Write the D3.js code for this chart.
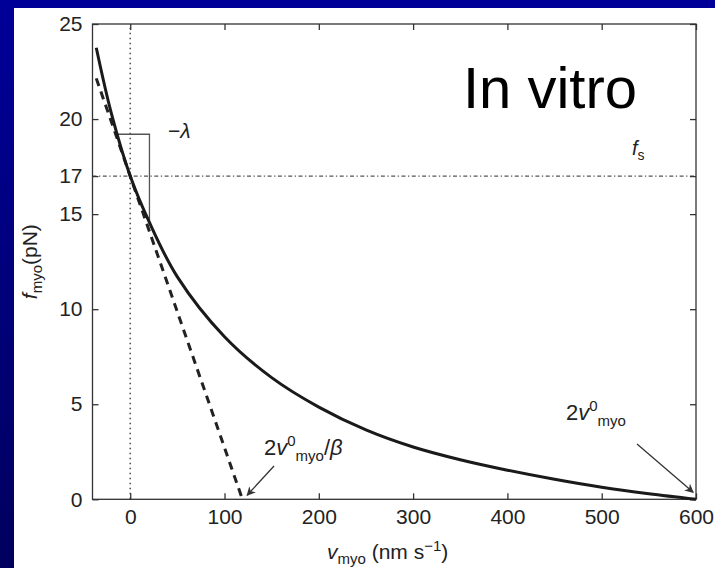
<!DOCTYPE html>
<html>
<head>
<meta charset="utf-8">
<script src="https://cdn.jsdelivr.net/npm/d3@7"></script>
<style>
html,body{margin:0;padding:0;background:#fff;}
svg{display:block;}
text{font-family:"Liberation Sans",Arial,Helvetica,sans-serif;}
</style>
</head>
<body>
<svg id="chart" width="715" height="568"></svg>
<script>
// ---- data ----
const velocity = [-36, -20, 0, 20, 50, 100, 150, 200, 250, 300, 350, 400, 450, 500, 550, 600];
const force    = [23.75, 20.3, 17.0, 14.6, 11.7, 8.55, 6.4, 4.85, 3.65, 2.75, 2.08, 1.53, 1.05, 0.63, 0.29, 0.0];
const tangentV = [-36, 119];
const tangentF = [22.14, 0];
const slopeMarkV = [-14, 20.4, 20.4];
const slopeMarkF = [19.2, 19.2, 14.5];
const stallForce = 17;
const xTicks = [0, 100, 200, 300, 400, 500, 600];
const yTicks = [0, 5, 10, 15, 17, 20, 25];

const svg = d3.select("#chart");

// slide background
const defs = svg.append("defs");
const grad = defs.append("linearGradient").attr("id","bg").attr("x1",0).attr("y1",0).attr("x2",0).attr("y2",1);
grad.append("stop").attr("offset","0%").attr("stop-color","#000099");
grad.append("stop").attr("offset","100%").attr("stop-color","#00005e");
svg.append("rect").attr("x",0).attr("y",0).attr("width",715).attr("height",568).attr("fill","url(#bg)");
svg.append("rect").attr("x",14).attr("y",8).attr("width",701).attr("height",560).attr("fill","#fff");

const mk = defs.append("marker").attr("id","arr").attr("viewBox","0 0 10 10")
  .attr("refX",9).attr("refY",5).attr("markerWidth",9).attr("markerHeight",9)
  .attr("markerUnits","userSpaceOnUse").attr("orient","auto");
mk.append("path").attr("d","M0,0 L10,5 L0,10 L3,5 Z").attr("fill","#333");

const x = d3.scaleLinear().domain([-40, 600]).range([92.5, 696]);
const y = d3.scaleLinear().domain([0, 25]).range([499.3, 24]);

const [x0, x1] = x.range();
const [yb, yt] = y.range();

// reference lines
svg.append("line").attr("x1", x(0)).attr("x2", x(0)).attr("y1", yb).attr("y2", yt)
  .attr("stroke","#555").attr("stroke-width",1.6).attr("stroke-dasharray","1.6,3.4");
svg.append("line").attr("x1", x0).attr("x2", x1).attr("y1", y(stallForce)).attr("y2", y(stallForce))
  .attr("stroke","#555").attr("stroke-width",1.3).attr("stroke-dasharray","4,2.5,1.3,2.5");

// axes box with inward ticks
const g = svg.append("g");
const axB = d3.axisBottom(x).tickValues(xTicks).tickSize(-6).tickPadding(10).tickFormat(d3.format("d"));
const axT = d3.axisTop(x).tickValues(xTicks).tickSize(-6).tickFormat("");
const axL = d3.axisLeft(y).tickValues(yTicks).tickSize(-6).tickPadding(10).tickFormat(d3.format("d"));
const axR = d3.axisRight(y).tickValues(yTicks).tickSize(-6).tickFormat("");
function style(sel){
  sel.selectAll(".domain").remove();
  sel.selectAll("line").attr("stroke","#333").attr("stroke-width",1.3);
  sel.selectAll("text").attr("font-size",21).attr("fill","#222")
     .attr("font-family","'Liberation Sans',Arial,Helvetica,sans-serif");
}
style(g.append("g").attr("transform",`translate(0,${yb})`).call(axB));
style(g.append("g").attr("transform",`translate(0,${yt})`).call(axT));
style(g.append("g").attr("transform",`translate(${x0},0)`).call(axL));
style(g.append("g").attr("transform",`translate(${x1},0)`).call(axR));
svg.append("rect").attr("x",x0).attr("y",yt).attr("width",x1-x0).attr("height",yb-yt)
  .attr("fill","none").attr("stroke","#333").attr("stroke-width",1.3);

// slope marker
svg.append("path")
  .attr("d", d3.line()(slopeMarkV.map((v,i)=>[x(v), y(slopeMarkF[i])])))
  .attr("fill","none").attr("stroke","#555").attr("stroke-width",1.3);

// tangent dashed
svg.append("path")
  .attr("d", d3.line()(tangentV.map((v,i)=>[x(v), y(tangentF[i])])))
  .attr("fill","none").attr("stroke","#222").attr("stroke-width",3).attr("stroke-dasharray","8,6");

// force-velocity curve
svg.append("path")
  .attr("d", d3.line().curve(d3.curveCatmullRom.alpha(0.5))(velocity.map((v,i)=>[x(v), y(force[i])])))
  .attr("fill","none").attr("stroke","#1a1a1a").attr("stroke-width",3);

// annotations
svg.append("text").attr("x",463).attr("y",108).attr("font-size",58).attr("fill","#000").text("In vitro");

const lam = svg.append("text").attr("x",168).attr("y",138).attr("font-size",21).attr("fill","#222");
lam.append("tspan").text("\u2212");
lam.append("tspan").attr("font-style","italic").text("\u03BB");

const fs = svg.append("text").attr("x",632).attr("y",155).attr("font-size",20).attr("fill","#222");
fs.append("tspan").attr("font-style","italic").text("f");
fs.append("tspan").attr("font-size",14).attr("dy",5).text("s");

function vLabel(xp, yp, withBeta){
  const t = svg.append("text").attr("x",xp).attr("y",yp).attr("font-size",22).attr("fill","#222");
  t.append("tspan").text("2");
  t.append("tspan").attr("font-style","italic").text("v");
  t.append("tspan").attr("font-size",15).attr("dy",-9).text("0");
  t.append("tspan").attr("font-size",15).attr("dy",15).text("myo");
  if (withBeta){
    t.append("tspan").attr("dy",-6).text("/");
    t.append("tspan").attr("font-style","italic").text("\u03B2");
  }
}
vLabel(264, 455, true);
vLabel(566, 420, false);

svg.append("line").attr("x1",274).attr("y1",466).attr("x2",x(124)).attr("y2",yb-4)
  .attr("stroke","#333").attr("stroke-width",1.3).attr("marker-end","url(#arr)");
svg.append("line").attr("x1",637).attr("y1",444).attr("x2",x(597)).attr("y2",yb-7)
  .attr("stroke","#333").attr("stroke-width",1.3).attr("marker-end","url(#arr)");

// axis titles
const xl = svg.append("text").attr("x",327).attr("y",559).attr("font-size",21).attr("fill","#222");
xl.append("tspan").attr("font-style","italic").text("v");
xl.append("tspan").attr("font-size",15).attr("dy",5).text("myo");
xl.append("tspan").attr("dy",-5).text(" (nm s");
xl.append("tspan").attr("font-size",15).attr("dy",-8).text("\u22121");
xl.append("tspan").attr("dy",8).text(")");

const yl = svg.append("text").attr("transform",`translate(37,${(yt+yb)/2}) rotate(-90)`)
  .attr("text-anchor","middle").attr("font-size",21).attr("fill","#222");
yl.append("tspan").attr("font-style","italic").text("f");
yl.append("tspan").attr("font-size",15).attr("dy",5).text("myo");
yl.append("tspan").attr("dy",-5).text("(pN)");
</script>
</body>
</html>
